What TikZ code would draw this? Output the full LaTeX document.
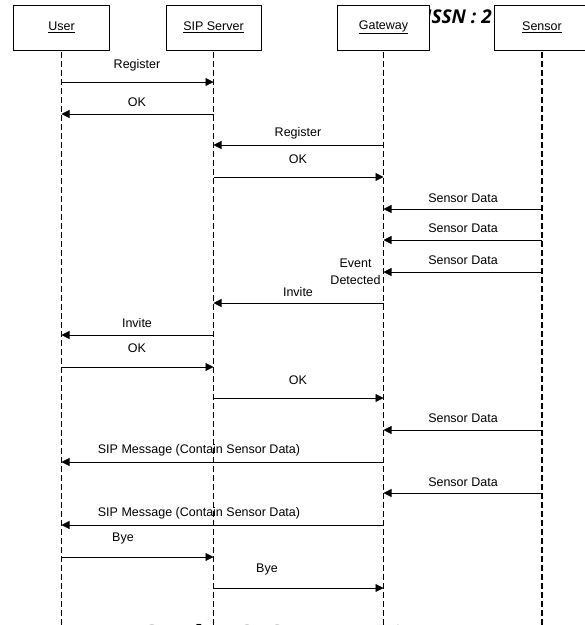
\documentclass[tikz,border=0pt]{standalone}
\usepackage{fontspec}
\setmainfont{Liberation Sans}
\newfontfamily\capfont{Liberation Serif}
\newfontfamily\hdrfont{Open Sans}
\usetikzlibrary{arrows.meta}
\begin{document}
\begin{tikzpicture}[x=1pt,y=-1pt,
  lbl/.style={font=\fontsize{12.5}{17}\selectfont, anchor=base, inner sep=0pt},
  obj/.style={draw, line width=0.8pt, fill=white, minimum height=45pt, inner sep=0pt,
              font=\fontsize{12.5}{15}\selectfont},
  life/.style={line width=1.3pt, dash pattern=on 6pt off 3pt},
  msg/.style={line width=0.8pt, -{Triangle[length=8pt,width=8pt]}}]
\useasboundingbox (0,0) rectangle (585,625);
\clip (0,0) rectangle (585,625);
% header text partly hidden behind the boxes
\node[font=\hdrfont\bfseries\itshape\fontsize{19}{22}\selectfont, anchor=base east, inner sep=0pt] (hdr) at (492,23) {ISSN : 2};
% objects
\node[obj, minimum width=96pt] (user) at (61.5,27.5) {\underline{User}};
\node[obj, minimum width=95pt] (sip) at (213.5,27.5) {\underline{SIP Server}};
\node[obj, minimum width=92pt] (gw) at (383.5,27.5) {\underline{Gateway}};
\node[obj, minimum width=95pt] (sen) at (542,27.5) {\underline{Sensor}};
% lifelines
\coordinate (bottom) at (0,630);
\foreach \o in {user,sip,gw,sen}{
  \draw[life] ([yshift=-2pt]\o.south) -- (\o |- bottom);
}
% messages
\foreach \y/\a/\b/\t/\lx/\ly [count=\i] in {
  82/user/sip/Register/137/68,
  114/sip/user/OK/137/106,
  145/gw/sip/Register/298/136,
  177/sip/gw/OK/298/163,
  209/sen/gw/Sensor Data/463/202,
  240/sen/gw/Sensor Data/463/232,
  272/sen/gw/Sensor Data/463/264,
  303/gw/sip/Invite/298/296,
  335/sip/user/Invite/137/327,
  367/user/sip/OK/137/352,
  398/sip/gw/OK/298/384,
  430/sen/gw/Sensor Data/463/422,
  462/gw/user/SIP Message (Contain Sensor Data)/199/453,
  493/sen/gw/Sensor Data/463/486,
  525/gw/user/SIP Message (Contain Sensor Data)/199/516,
  557/user/sip/Bye/123/541,
  588/sip/gw/Bye/267/572}{
  \coordinate (r\i) at (0,\y);
  \draw[msg] (\a |- r\i) -- (\b |- r\i);
  \node[lbl] (l\i) at (\lx,\ly) {\t};
}
\node[lbl, anchor=center, align=center] (ev) at (355.5,272) {Event\\Detected};
% caption, cut off at the bottom edge as in the reference
\node[anchor=base west, inner sep=0pt, font=\capfont\fontsize{26}{30}\selectfont] (cap) at (141,642) {\textbf{Gambar 3.} Sequence Diagram};
\end{tikzpicture}
\end{document}
